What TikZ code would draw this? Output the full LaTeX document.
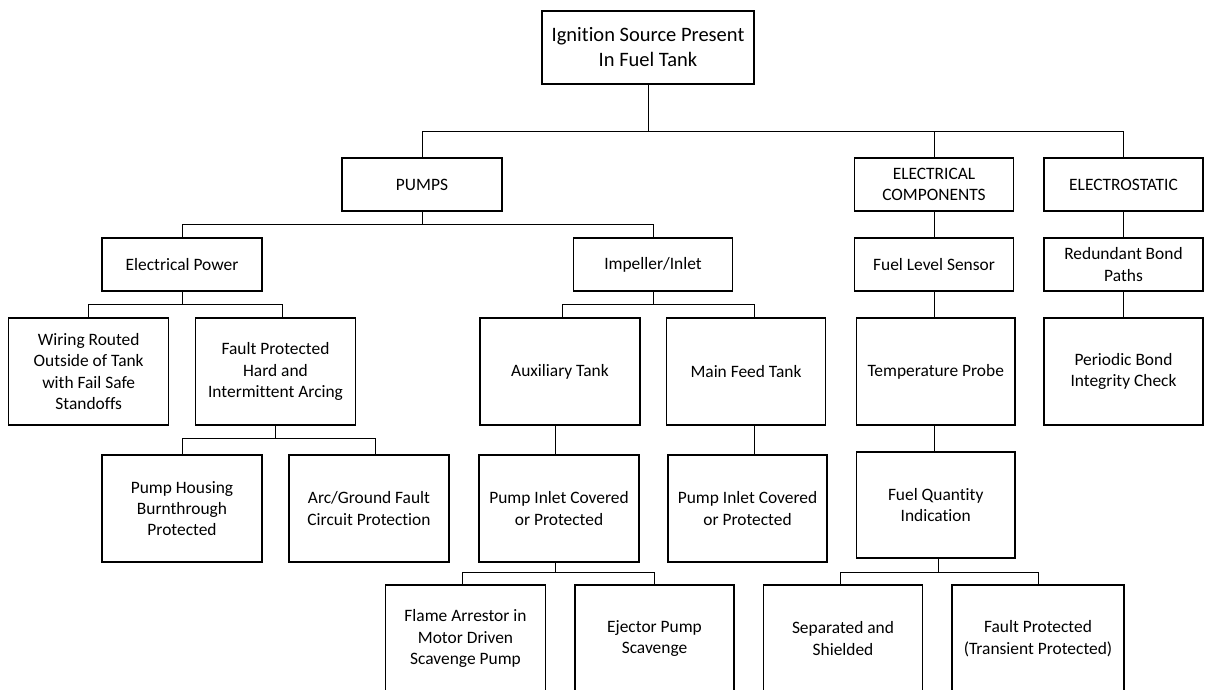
\documentclass[tikz,border=0pt]{standalone}
\usepackage{fontspec}
\setmainfont{Carlito}[Ligatures=NoCommon]
\begin{document}
\begin{tikzpicture}[x=1pt,y=-1pt,
  box/.style={draw, line width=1.1pt, rectangle, align=center, inner sep=0pt,
    font=\fontsize{17.4}{21.4}\selectfont},
  bw/.style={minimum width=#1},
  sh/.style={minimum height=53pt},
  th/.style={minimum height=107pt},
  conn/.style={line width=1pt}]
\useasboundingbox (0,0) rectangle (1206,689);
\clip (0,0) rectangle (1206,689);
% level 0
\node[box,bw=212pt,minimum height=73pt,font=\fontsize{20.5}{25}\selectfont] (root) at (648,47.5) {Ignition Source Present\\In Fuel Tank};
% level 1
\node[box,bw=160pt,sh] (pumps) at (422,184.5) {PUMPS};
\node[box,bw=159pt,sh] (ecomp) at (934,184.5) {ELECTRICAL\\COMPONENTS};
\node[box,bw=159pt,sh] (estat) at (1123.5,184.5) {ELECTROSTATIC};
% level 2
\node[box,bw=160pt,sh] (epower) at (182,264.5) {Electrical Power};
\node[box,bw=159pt,sh] (imp) at (653,264.5) {Impeller/Inlet};
\node[box,bw=159pt,sh] (fls) at (934,264.5) {Fuel Level Sensor};
\node[box,bw=159pt,sh] (rbp) at (1123.5,264.5) {Redundant Bond\\Paths};
% level 3
\node[box,bw=160pt,th] (wiring) at (88.7,371.5) {Wiring Routed\\Outside of Tank\\with Fail Safe\\Standoffs};
\node[box,bw=160pt,th] (fph) at (275.5,371.5) {Fault Protected\\Hard and\\Intermittent Arcing};
\node[box,bw=160pt,th] (aux) at (560,371.5) {Auxiliary Tank};
\node[box,bw=158.5pt,th] (mft) at (746,371.5) {Main Feed Tank};
\node[box,bw=158.6pt,th] (temp) at (935.7,371.5) {Temperature Probe};
\node[box,bw=159pt,th] (pbic) at (1123.5,371.5) {Periodic Bond\\Integrity Check};
% level 4
\node[box,bw=160pt,th] (phb) at (182,508.5) {Pump Housing\\Burnthrough\\Protected};
\node[box,bw=160pt,th] (agf) at (369,508.5) {Arc/Ground Fault\\Circuit Protection};
\node[box,bw=160pt,th] (pic1) at (559,508.5) {Pump Inlet Covered\\or Protected};
\node[box,bw=159pt,th] (pic2) at (747.5,508.5) {Pump Inlet Covered\\or Protected};
\node[box,bw=158.6pt,minimum height=106pt] (fqi) at (935.7,505) {Fuel Quantity\\Indication};
% level 5
\node[box,bw=160pt,th] (flame) at (465.5,638.5) {Flame Arrestor in\\Motor Driven\\Scavenge Pump};
\node[box,bw=159pt,th] (eject) at (654.5,638.5) {Ejector Pump\\Scavenge};
\node[box,bw=159pt,th] (sep) at (843,638.5) {Separated and\\Shielded};
\node[box,bw=172pt,th] (ftp) at (1038,638.5) {Fault Protected\\(Transient Protected)};
% bus levels
\coordinate (b1) at (0,131);
\coordinate (b2) at (0,224);
\coordinate (b3) at (0,304);
\coordinate (b5) at (0,438);
\coordinate (b6) at (0,572);
% root -> level 1
\draw[conn] (root.south) -- (root.south |- b1);
\draw[conn] (pumps.north) -- (pumps.north |- b1) -- (estat.north |- b1) -- (estat.north);
\draw[conn] (ecomp.north) -- (ecomp.north |- b1);
% pumps -> level 2
\draw[conn] (pumps.south) -- (pumps.south |- b2);
\draw[conn] (epower.north) -- (epower.north |- b2) -- (imp.north |- b2) -- (imp.north);
% electrical components / electrostatic chains
\draw[conn] (ecomp.south) -- (fls.north);
\draw[conn] (estat.south) -- (rbp.north);
\draw[conn] (fls.south) -- (temp.north -| fls.south);
\draw[conn] (rbp.south) -- (pbic.north);
\draw[conn] (temp.south -| fls.south) -- (fqi.north -| fls.south);
% electrical power -> level 3
\draw[conn] (epower.south) -- (epower.south |- b3);
\draw[conn] (wiring.north) -- (wiring.north |- b3) -- ([xshift=7pt]fph.north |- b3) -- ([xshift=7pt]fph.north);
% impeller -> level 3
\draw[conn] (imp.south) -- (imp.south |- b3);
\draw[conn] ([xshift=2pt]aux.north) -- ([xshift=2pt]aux.north |- b3) -- ([xshift=8pt]mft.north |- b3) -- ([xshift=8pt]mft.north);
% fault protected -> level 4
\draw[conn] (fph.south) -- (fph.south |- b5);
\draw[conn] (phb.north) -- (phb.north |- b5) -- ([xshift=6pt]agf.north |- b5) -- ([xshift=6pt]agf.north);
% tanks -> pump inlet
\draw[conn] ([xshift=-5pt]aux.south) -- ([xshift=-5pt]aux.south |- pic1.north);
\draw[conn] ([xshift=8pt]mft.south) -- ([xshift=8pt]mft.south |- pic2.north);
% pump inlet -> level 5
\draw[conn] ([xshift=-4pt]pic1.south) -- ([xshift=-4pt]pic1.south |- b6);
\draw[conn] ([xshift=-3.5pt]flame.north) -- ([xshift=-3.5pt]flame.north |- b6) -- (eject.north |- b6) -- (eject.north);
% fuel quantity -> level 5
\draw[conn] ([xshift=3pt]fqi.south) -- ([xshift=3pt]fqi.south |- b6);
\draw[conn] ([xshift=-3pt]sep.north) -- ([xshift=-3pt]sep.north |- b6) -- (ftp.north |- b6) -- (ftp.north);
\end{tikzpicture}
\end{document}
